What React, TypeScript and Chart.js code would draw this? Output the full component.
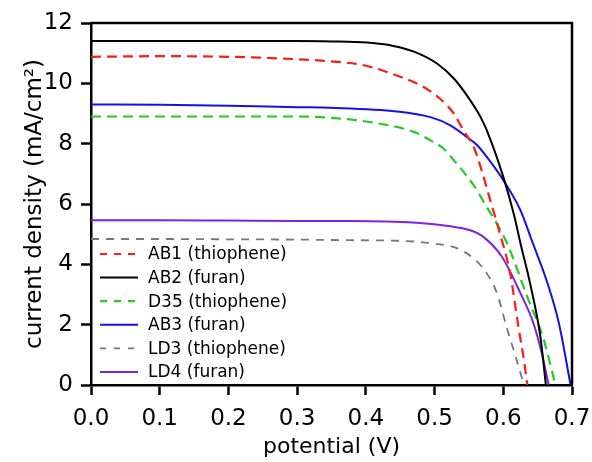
import React, { useEffect, useRef } from "react";
import { Chart, registerables } from "chart.js";

Chart.register(...registerables);

const seriesNames = ["AB1 (thiophene)", "AB2 (furan)", "D35 (thiophene)", "AB3 (furan)", "LD3 (thiophene)", "LD4 (furan)"];

const ab1V = [0, 0.1, 0.2, 0.3, 0.348, 0.397, 0.445, 0.484, 0.508, 0.528, 0.542, 0.557, 0.567, 0.581, 0.596, 0.61, 0.622, 0.63, 0.635];
const ab1J = [10.88, 10.9, 10.88, 10.8, 10.73, 10.6, 10.26, 9.88, 9.49, 9.0, 8.44, 7.89, 7.23, 6.13, 4.95, 3.7, 1.93, 0.83, 0];

const ab2V = [0, 0.1, 0.2, 0.3, 0.349, 0.402, 0.44, 0.47, 0.504, 0.528, 0.547, 0.567, 0.576, 0.6, 0.615, 0.626, 0.639, 0.654, 0.662];
const ab2J = [11.4, 11.4, 11.4, 11.4, 11.39, 11.35, 11.24, 11.05, 10.65, 10.16, 9.6, 8.88, 8.44, 6.9, 5.69, 4.6, 3.37, 1.6, 0];

const d35V = [0, 0.1, 0.2, 0.3, 0.348, 0.421, 0.47, 0.494, 0.513, 0.528, 0.557, 0.576, 0.596, 0.607, 0.635, 0.659, 0.676];
const d35J = [8.9, 8.9, 8.9, 8.9, 8.86, 8.66, 8.39, 8.11, 7.84, 7.45, 6.62, 5.9, 5.13, 4.62, 2.92, 1.49, 0];

const ab3V = [0, 0.1, 0.2, 0.3, 0.348, 0.445, 0.494, 0.523, 0.547, 0.562, 0.576, 0.6, 0.625, 0.643, 0.664, 0.681, 0.698];
const ab3J = [9.3, 9.29, 9.26, 9.21, 9.19, 9.07, 8.88, 8.61, 8.22, 7.95, 7.56, 6.79, 5.79, 4.7, 3.4, 2.04, 0];

const ld3V = [0, 0.1, 0.2, 0.3, 0.377, 0.45, 0.499, 0.533, 0.557, 0.576, 0.591, 0.606, 0.618, 0.63];
const ld3J = [4.84, 4.84, 4.83, 4.82, 4.8, 4.78, 4.69, 4.53, 4.19, 3.7, 3.03, 1.82, 0.94, 0];

const ld4V = [0, 0.1, 0.2, 0.3, 0.377, 0.474, 0.523, 0.552, 0.571, 0.598, 0.625, 0.644, 0.656, 0.666];
const ld4J = [5.46, 5.46, 5.45, 5.44, 5.44, 5.38, 5.26, 5.13, 4.91, 4.25, 3.04, 2.04, 1.05, 0];

const xTicks = [0, 0.1, 0.2, 0.3, 0.4, 0.5, 0.6, 0.7];
const yTicks = [0, 2, 4, 6, 8, 10, 12];

const colors = ["#ff1a1a", "#000000", "#22cc22", "#1212e6", "#777777", "#8020e0"];
const dashes: number[][] = [[10, 6], [], [10, 6], [], [8, 7], []];
const widths = [2.2, 2, 2.2, 2, 1.8, 2];
const legendDashes: number[][] = [[7, 7], [], [7, 7], [], [6, 8], []];

const pts = (v: number[], j: number[]) => v.map((x, i) => ({ x, y: j[i] }));

const framePlugin = {
  id: "frameLegend",
  afterDatasetsDraw(chart: any) {
    const { ctx, chartArea } = chart;
    ctx.save();
    ctx.strokeStyle = "#000";
    ctx.lineWidth = 2.5;
    ctx.beginPath();
    ctx.moveTo(chartArea.left, chartArea.top);
    ctx.lineTo(chartArea.right, chartArea.top);
    ctx.lineTo(chartArea.right, chartArea.bottom);
    ctx.stroke();
    const x0 = 100;
    const lineLen = 38;
    const y0 = 254;
    const step = 23.6;
    ctx.font = "17px 'DejaVu Sans'";
    ctx.textBaseline = "middle";
    ctx.textAlign = "left";
    chart.data.datasets.forEach((ds: any, i: number) => {
      const y = y0 + i * step;
      ctx.strokeStyle = ds.borderColor;
      ctx.lineWidth = ds.borderWidth;
      ctx.setLineDash(legendDashes[i]);
      ctx.beginPath();
      ctx.moveTo(x0, y);
      ctx.lineTo(x0 + lineLen, y);
      ctx.stroke();
      ctx.setLineDash([]);
      ctx.fillStyle = "#000";
      ctx.fillText(ds.label, 148, y + 1);
    });
    ctx.restore();
  },
};

export default function App() {
  const ref = useRef<HTMLCanvasElement>(null);
  useEffect(() => {
    if (!ref.current) return;
    const series = [pts(ab1V, ab1J), pts(ab2V, ab2J), pts(d35V, d35J), pts(ab3V, ab3J), pts(ld3V, ld3J), pts(ld4V, ld4J)];
    const chart = new Chart(ref.current, {
      type: "line",
      data: {
        datasets: series.map((d, i) => ({
          label: seriesNames[i],
          data: d,
          borderColor: colors[i],
          backgroundColor: colors[i],
          borderWidth: widths[i],
          borderDash: dashes[i],
          pointRadius: 0,
          cubicInterpolationMode: "monotone" as const,
          fill: false,
        })),
      },
      options: {
        animation: false,
        responsive: false,
        maintainAspectRatio: false,
        layout: { padding: { top: 23, right: 20, left: 0, bottom: 0 } },
        plugins: { legend: { display: false }, tooltip: { enabled: false } },
        scales: {
          x: {
            type: "linear",
            min: 0,
            max: 0.7,
            afterFit: (s: any) => { s.height = 77; s.paddingLeft = 0; s.paddingRight = 0; },
            afterBuildTicks: (s: any) => { s.ticks = xTicks.map((v) => ({ value: v })); },
            ticks: {
              color: "#000",
              font: { family: "'DejaVu Sans'", size: 23 },
              padding: 10,
              callback: (v: any) => Number(v).toFixed(1),
            },
            grid: { drawOnChartArea: false, drawTicks: true, tickLength: 10, tickWidth: 2.5, color: "#000" },
            border: { display: true, color: "#000", width: 2.5 },
            title: {
              display: true,
              text: "potential (V)",
              color: "#000",
              font: { family: "'DejaVu Sans'", size: 22 },
              padding: { top: 0, bottom: 2 },
            },
          },
          y: {
            type: "linear",
            min: 0,
            max: 12,
            afterFit: (s: any) => { s.width = 91; s.paddingTop = 0; s.paddingBottom = 0; },
            afterBuildTicks: (s: any) => { s.ticks = yTicks.map((v) => ({ value: v })); },
            ticks: {
              color: "#000",
              font: { family: "'DejaVu Sans'", size: 23 },
              padding: 8,
            },
            grid: { drawOnChartArea: false, drawTicks: true, tickLength: 10, tickWidth: 2.5, color: "#000" },
            border: { display: true, color: "#000", width: 2.5 },
            title: {
              display: true,
              text: "current density (mA/cm²)",
              color: "#000",
              font: { family: "'DejaVu Sans'", size: 23 },
              padding: { top: 21, bottom: 0 },
            },
          },
        },
      },
      plugins: [framePlugin],
    });
    return () => chart.destroy();
  }, []);
  return (
    <div style={{ position: "fixed", left: 0, top: 0, width: 592, height: 462, background: "#fff" }}>
      <canvas ref={ref} width={592} height={462} style={{ width: 592, height: 462 }} />
    </div>
  );
}
